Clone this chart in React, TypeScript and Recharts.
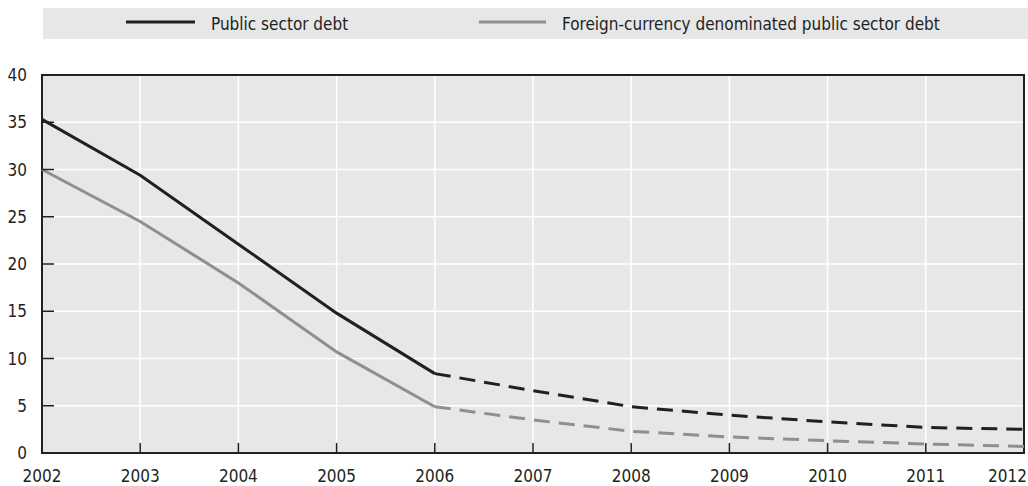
import React from 'react';
import { LineChart, Line, XAxis, YAxis, CartesianGrid, Legend, ReferenceArea } from 'recharts';

const years = [2002, 2003, 2004, 2005, 2006, 2007, 2008, 2009, 2010, 2011, 2012];
const publicDebt = [35.3, 29.4, 22.1, 14.8, 8.4, 6.6, 4.9, 4.0, 3.3, 2.7, 2.5];
const foreignDebt = [30.0, 24.5, 18.0, 10.7, 4.9, 3.5, 2.3, 1.7, 1.3, 0.95, 0.7];
const lastActualYear = 2006;
const yTicks = [0, 5, 10, 15, 20, 25, 30, 35, 40];
const seriesNames = ['Public sector debt', 'Foreign-currency denominated public sector debt'];

const FONT = "'DejaVu Sans', sans-serif";
const TXT: React.CSSProperties = { fontStretch: 'condensed' };
const DARK = '#231f20';
const GREY = '#8f8f8f';
const BG = '#e6e7e9';

const data = years.map((y, i) => ({
  year: y,
  pubSolid: y <= lastActualYear ? publicDebt[i] : null,
  pubDash: y >= lastActualYear ? publicDebt[i] : null,
  forSolid: y <= lastActualYear ? foreignDebt[i] : null,
  forDash: y >= lastActualYear ? foreignDebt[i] : null,
}));

const XTick = (props: any) => {
  const { x, y, payload, index } = props;
  const last = payload.value === years[years.length - 1];
  return (
    <g>
      {index !== 0 && !last && <line x1={x} y1={y} x2={x} y2={y - 10} stroke={DARK} strokeWidth={1.5} />}
      <text x={last ? x + 3 : x} y={y + 29} textAnchor={last ? 'end' : 'middle'} fontFamily={FONT} fontSize={17} fill={DARK} style={TXT}>
        {payload.value}
      </text>
    </g>
  );
};

const YTick = (props: any) => {
  const { x, y, payload } = props;
  const edge = payload.value === 0 || payload.value === 40;
  return (
    <g>
      {!edge && <line x1={x} y1={y} x2={x + 12} y2={y} stroke={DARK} strokeWidth={1.5} />}
      <text x={x - 15} y={y + 6} textAnchor="end" fontFamily={FONT} fontSize={17} fill={DARK} style={TXT}>
        {payload.value}
      </text>
    </g>
  );
};

const LegendContent = () => (
  <div style={{ width: 985, height: 31, background: BG, position: 'relative' }}>
    <svg width={985} height={31} style={{ position: 'absolute', left: 0, top: 0 }}>
      <line x1={83} y1={14} x2={152} y2={14} stroke={DARK} strokeWidth={3} />
      <text x={168} y={21.5} fontFamily={FONT} fontSize={17} fill={DARK} style={TXT}>{seriesNames[0]}</text>
      <line x1={436} y1={14} x2={503} y2={14} stroke={GREY} strokeWidth={3} />
      <text x={519} y={21.5} fontFamily={FONT} fontSize={17} fill={DARK} style={TXT}>{seriesNames[1]}</text>
    </svg>
  </div>
);

export default function App() {
  return (
    <div style={{ position: 'absolute', left: 0, top: 0, width: 1028, height: 486, background: '#fff' }}>
      <LineChart width={1028} height={486} data={data} margin={{ top: 75, right: 4, bottom: 0, left: 0 }}>
        <CartesianGrid fill={BG} stroke="#ffffff" strokeWidth={1.5} />
        <XAxis
          dataKey="year"
          type="number"
          domain={[2002, 2012]}
          ticks={years}
          interval={0}
          height={33}
          tickSize={0}
          tickMargin={0}
          tickLine={false}
          axisLine={false}
          tick={<XTick />}
        />
        <YAxis
          domain={[0, 40]}
          ticks={yTicks}
          width={42}
          tickSize={0}
          tickMargin={0}
          tickLine={false}
          axisLine={false}
          tick={<YTick />}
        />
        <ReferenceArea x1={2002} x2={2012} y1={0} y2={40} fill="none" stroke={DARK} strokeWidth={2} />
        <Line dataKey="pubSolid" stroke={DARK} strokeWidth={3} dot={false} isAnimationActive={false} name={seriesNames[0]} />
        <Line dataKey="pubDash" stroke={DARK} strokeWidth={3} strokeDasharray="16 9" dot={false} isAnimationActive={false} legendType="none" />
        <Line dataKey="forSolid" stroke={GREY} strokeWidth={3} dot={false} isAnimationActive={false} name={seriesNames[1]} />
        <Line dataKey="forDash" stroke={GREY} strokeWidth={3} strokeDasharray="16 9" dot={false} isAnimationActive={false} legendType="none" />
        <Legend
          layout="horizontal"
          verticalAlign="middle"
          align="center"
          content={<LegendContent />}
          wrapperStyle={{ position: 'absolute', left: 43, top: 8, width: 985, height: 31 }}
        />
      </LineChart>
    </div>
  );
}
